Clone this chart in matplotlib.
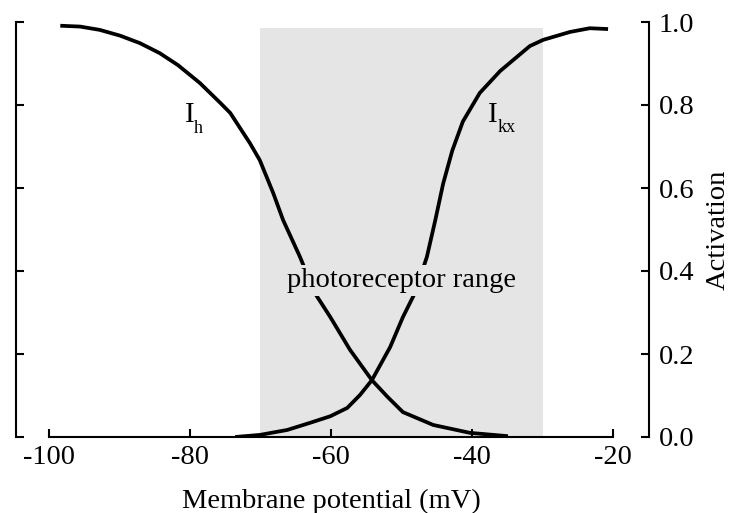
"""Activation curves of I_h and I_kx against membrane potential, with the
photoreceptor operating range shaded."""
import matplotlib

matplotlib.use("Agg")
import matplotlib.pyplot as plt

plt.rcParams["font.family"] = ["Liberation Serif", "DejaVu Serif"]

# values
ih_v = [-98.4, -95.6, -92.8, -89.9, -87.1, -84.3, -81.7, -78.6, -75.7, -74.3, -71.5, -70.1,
        -68.2, -66.8, -64.4, -62.3, -60.1, -57.3, -54.2, -52.0, -49.8, -45.5, -40.3, -34.9]
ih_act = [0.991, 0.989, 0.981, 0.967, 0.949, 0.925, 0.896, 0.853, 0.805, 0.781, 0.708, 0.667,
          0.588, 0.523, 0.434, 0.347, 0.289, 0.210, 0.137, 0.097, 0.060, 0.029, 0.010, 0.002]

ikx_v = [-73.6, -70.1, -66.2, -63.0, -60.1, -57.7, -55.9, -54.2, -51.6, -49.8, -48.1, -46.4,
         -45.2, -44.1, -42.8, -41.3, -38.9, -36.0, -31.8, -29.9, -26.1, -23.3, -20.7]
ikx_act = [0.0, 0.005, 0.017, 0.034, 0.050, 0.070, 0.101, 0.137, 0.217, 0.289, 0.347, 0.434,
           0.523, 0.610, 0.690, 0.760, 0.829, 0.882, 0.942, 0.957, 0.976, 0.985, 0.983]

range_lo, range_hi, range_top = -70, -30, 0.985
x_ticks = [-100, -80, -60, -40, -20]
y_ticks = [0.0, 0.2, 0.4, 0.6, 0.8, 1.0]

C_SHADE = "#e5e5e5"; C_INK = "black"; FS = 20.5

fig = plt.figure(figsize=(7.4, 5.13), dpi=100)
ax = fig.add_axes([49 / 740, 76 / 513, 564 / 740, 415 / 513])

ax.axvspan(range_lo, range_hi, ymin=0, ymax=range_top, color=C_SHADE, lw=0, zorder=0)
for v, a in ((ih_v, ih_act), (ikx_v, ikx_act)):
    ax.plot(v, a, color=C_INK, lw=2.7, solid_joinstyle="round", solid_capstyle="butt", zorder=2)

# current labels: capital I with a small subscript
ax.text(-80.7, 0.759, "I", fontsize=21, ha="left", va="baseline")
ax.text(-79.4, 0.733, "h", fontsize=13, ha="left", va="baseline")
ax.text(-37.7, 0.759, "I", fontsize=21, ha="left", va="baseline")
ax.text(-36.4, 0.735, "kx", fontsize=13, ha="left", va="baseline")
ax.text(-50, 0.361, "photoreceptor range", fontsize=FS, ha="center", va="baseline",
        zorder=3, bbox=dict(facecolor=C_SHADE, edgecolor="none", pad=2))

ax.set_xlim(-100, -20); ax.set_ylim(0, 1)
ax.set_xticks(x_ticks); ax.set_xticklabels([str(t) for t in x_ticks])
ax.set_yticks(y_ticks); ax.set_yticklabels([f"{t:.1f}" for t in y_ticks])

ax.spines["top"].set_visible(False)
ax.spines["left"].set_position(("outward", 23.8))
ax.spines["right"].set_position(("outward", 25.9))
for s in ("left", "right", "bottom"):
    ax.spines[s].set_linewidth(1.5)

ax.tick_params(axis="both", direction="in", length=5.8, width=1.5, labelsize=FS)
ax.tick_params(axis="x", pad=6)
ax.tick_params(axis="y", left=True, right=True, labelleft=False, labelright=True, pad=7)

ax.set_xlabel("Membrane potential (mV)", fontsize=FS, labelpad=13)
ax.yaxis.set_label_position("right")
ax.set_ylabel("Activation", fontsize=FS, labelpad=8)

fig.savefig("out.png", dpi=100)
